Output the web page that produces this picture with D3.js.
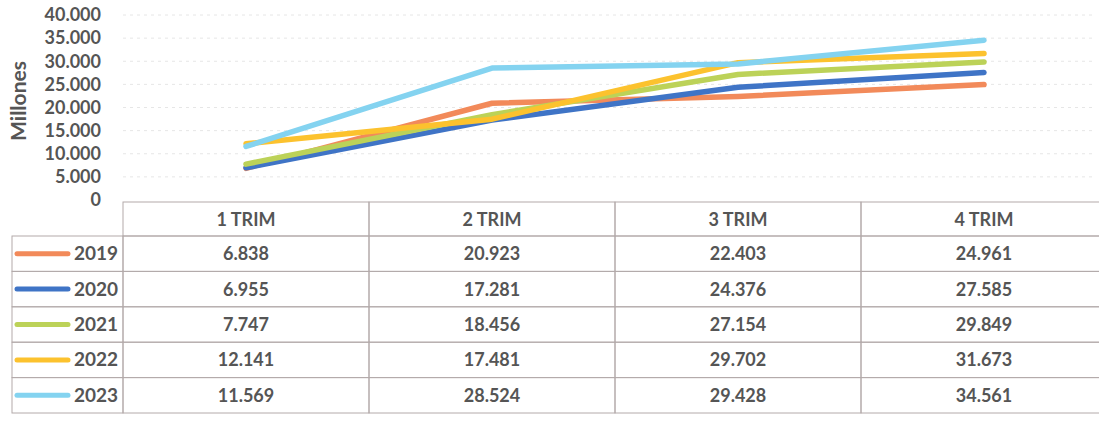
<!DOCTYPE html>
<html>
<head>
<meta charset="utf-8">
<script src="https://cdn.jsdelivr.net/npm/d3@7"></script>
<style>
  body { margin: 0; background: #fff; }
  svg text { font-family: Lato, "Open Sans", sans-serif; font-weight: 700; fill: #555; }
</style>
</head>
<body>
<div id="chart"></div>
<script>
// data
const quarters = ["1 TRIM", "2 TRIM", "3 TRIM", "4 TRIM"];
const years = ["2019", "2020", "2021", "2022", "2023"];
const v2019 = [6838, 20923, 22403, 24961];
const v2020 = [6955, 17281, 24376, 27585];
const v2021 = [7747, 18456, 27154, 29849];
const v2022 = [12141, 17481, 29702, 31673];
const v2023 = [11569, 28524, 29428, 34561];
const yTicks = [0, 5000, 10000, 15000, 20000, 25000, 30000, 35000, 40000];
const colors = ["#f28a5a", "#3f74c6", "#bcd258", "#fcc22e", "#84d3f0"];

const series = years.map((y, i) => ({year: y, values: [v2019, v2020, v2021, v2022, v2023][i], color: colors[i]}));

// number format with dot as thousands separator
const loc = d3.formatLocale({decimal: ",", thousands: ".", grouping: [3], currency: ["", ""]});
const fmt = loc.format(",.0f");

const W = 1099, H = 423;
const svg = d3.select("#chart").append("svg")
  .attr("width", W).attr("height", H);

// scales
const x = d3.scaleBand().domain(quarters).range([123, 1107]);
const y = d3.scaleLinear().domain([0, 40000]).range([200, 15]);

// faint gridlines
svg.append("g")
  .selectAll("line")
  .data(yTicks.slice(1))
  .join("line")
    .attr("x1", 123).attr("x2", 1092)
    .attr("y1", d => y(d)).attr("y2", d => y(d))
    .attr("stroke", "#e6e6e6")
    .attr("stroke-dasharray", "3,4");

// y axis labels
const yAxis = svg.append("g")
  .attr("transform", "translate(101,0)")
  .call(d3.axisLeft(y).tickValues(yTicks).tickFormat(fmt).tickSize(0).tickPadding(0));
yAxis.select(".domain").remove();
yAxis.selectAll("text")
  .style("font-size", "18px")
  .style("font-family", "Lato, sans-serif")
  .style("font-weight", "700")
  .attr("fill", "#555");

svg.append("text")
  .attr("transform", "translate(26,101) rotate(-90)")
  .attr("text-anchor", "middle")
  .style("font-size", "21px")
  .text("Millones");

// lines
const line = d3.line()
  .x((d, i) => x(quarters[i]) + x.bandwidth() / 2)
  .y(d => y(d));

svg.append("g")
  .selectAll("path")
  .data(series)
  .join("path")
    .attr("d", d => line(d.values))
    .attr("fill", "none")
    .attr("stroke", d => d.color)
    .attr("stroke-width", 5.5)
    .attr("stroke-linejoin", "round")
    .attr("stroke-linecap", "round");

// data table
const rowTop = 236, rowH = 35.4, headTop = 202;
const tableLeft = 12, legendRight = 123;
const rows = d3.scaleBand().domain(years).range([rowTop, rowTop + rowH * years.length]);
const border = "#b3aaaa";

const table = svg.append("g");

// header cells
table.selectAll("rect.head")
  .data(quarters)
  .join("rect")
    .attr("class", "head")
    .attr("x", d => x(d)).attr("y", headTop)
    .attr("width", x.bandwidth()).attr("height", rowTop - headTop)
    .attr("fill", "none").attr("stroke", border);

table.selectAll("text.head")
  .data(quarters)
  .join("text")
    .attr("class", "head")
    .attr("x", d => x(d) + x.bandwidth() / 2)
    .attr("y", (headTop + rowTop) / 2 + 6.5)
    .attr("text-anchor", "middle")
    .style("font-size", "18px")
    .text(d => d);

// body rows
const rowG = table.selectAll("g.row")
  .data(series)
  .join("g")
    .attr("class", "row")
    .attr("transform", d => `translate(0,${rows(d.year)})`);

rowG.append("rect")
  .attr("x", tableLeft).attr("y", 0)
  .attr("width", legendRight - tableLeft).attr("height", rows.bandwidth())
  .attr("fill", "none").attr("stroke", border);

rowG.append("line")
  .attr("x1", 17).attr("x2", 68)
  .attr("y1", rows.bandwidth() / 2).attr("y2", rows.bandwidth() / 2)
  .attr("stroke", d => d.color)
  .attr("stroke-width", 5)
  .attr("stroke-linecap", "round");

rowG.append("text")
  .attr("x", 118).attr("y", rows.bandwidth() / 2 + 6.5)
  .attr("text-anchor", "end")
  .style("font-size", "19px")
  .text(d => d.year);

rowG.selectAll("rect.cell")
  .data(d => d.values.map((v, i) => ({q: quarters[i], v})))
  .join("rect")
    .attr("class", "cell")
    .attr("x", d => x(d.q)).attr("y", 0)
    .attr("width", x.bandwidth()).attr("height", rows.bandwidth())
    .attr("fill", "none").attr("stroke", border);

rowG.selectAll("text.cell")
  .data(d => d.values.map((v, i) => ({q: quarters[i], v})))
  .join("text")
    .attr("class", "cell")
    .attr("x", d => x(d.q) + x.bandwidth() / 2)
    .attr("y", rows.bandwidth() / 2 + 6.5)
    .attr("text-anchor", "middle")
    .style("font-size", "18px")
    .text(d => fmt(d.v));
</script>
</body>
</html>
